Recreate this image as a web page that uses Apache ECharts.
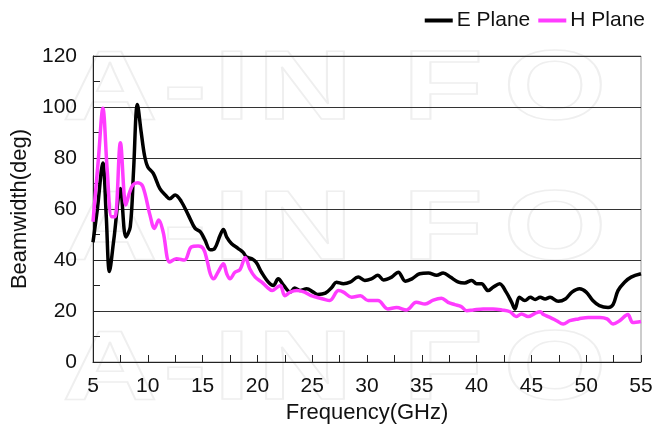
<!DOCTYPE html>
<html>
<head>
<meta charset="utf-8">
<script src="https://cdn.jsdelivr.net/npm/echarts@6/dist/echarts.min.js"></script>
<style>html,body{margin:0;padding:0;background:#fff;}#c{width:656px;height:441px;}</style>
</head>
<body>
<div id="c"></div>
<script>
const seriesNames = ['E Plane', 'H Plane'];
const xTicks = [5, 10, 15, 20, 25, 30, 35, 40, 45, 50, 55];
const yTicks = [0, 20, 40, 60, 80, 100, 120];

const eFreq = [5.0,5.4,5.9,6.2,6.5,6.9,7.5,8.0,8.4,8.7,9.05,9.4,9.7,10.0,10.5,11.1,11.7,12.0,12.5,13.05,13.7,14.3,14.8,15.2,15.7,16.1,16.6,16.9,17.2,17.65,18.25,18.7,19.0,19.5,19.9,20.4,21.0,21.45,21.9,22.4,23.0,23.4,23.9,24.5,25.1,25.5,26.2,26.8,27.2,27.85,28.45,29.2,29.8,30.4,31.0,31.5,32.25,32.85,33.5,34.1,34.8,35.6,36.35,36.95,37.6,38.35,38.9,39.55,40.0,40.45,41.05,41.5,42.1,42.7,43.2,43.5,43.9,44.4,44.9,45.35,45.8,46.25,46.7,47.45,48.1,48.7,49.4,50.0,50.6,51.2,52.0,52.45,52.9,53.5,54.1,55.0];
const eWidth = [47,60,78,58,35.5,48,68,49,53,75,101,90,81,76.5,74,68,65,64,65.5,63,57.6,52.5,51,48,44,44.5,49.7,52,49,46.4,44.5,43,41.2,40.5,39,35,31.3,30,32.6,30,27.4,29,28,28.7,27.4,26.5,27,29.3,31.3,30.7,31.3,33.3,32,32.6,34,32.2,33.3,35.2,31.7,32.6,34.6,34.9,34,34.9,33.3,31.3,31,32,30.7,30.7,28,29.3,30.7,27.4,23.4,20.8,25.4,24.1,25.4,24.5,25.4,24.7,25.4,23.8,24.7,27.4,28.7,27.4,24.1,22.1,21.4,22.5,28,31.3,33.3,34.6];

const hFreq = [5.0,5.5,5.9,6.3,6.7,7.0,7.5,8.0,8.3,8.65,9.1,9.55,10.2,10.6,11.0,11.4,12.0,12.6,13.35,13.97,14.6,15.06,15.4,15.7,16.0,16.4,16.9,17.2,17.5,17.95,18.4,18.9,19.3,19.8,20.4,20.9,21.35,21.8,22.1,22.5,23.0,23.6,24.3,24.9,25.4,26.0,26.6,27.4,27.85,28.6,29.4,30.1,31.0,31.9,32.7,33.6,34.5,35.3,36.05,36.8,37.4,38.0,38.6,39.1,39.7,40.6,41.5,42.3,43.05,43.6,44.1,44.7,45.3,45.8,46.1,46.7,47.3,47.9,48.5,49.3,50.2,51.25,51.9,52.45,53.05,53.8,54.25,55.0];
const hWidth = [55,80,99.5,75,57,57,86,61.6,66,69.5,70.3,68.8,57.6,52.4,55.7,51,39.2,40.5,40,45.1,45.5,44.5,40,34.6,32.6,35.2,38.5,34.6,32.6,35.2,36.2,41,36.6,33.3,31.3,29.3,28,29.3,30,26,27.4,28,27.4,26,25.4,24.7,24.1,28,27.4,25.4,26,24.1,24.1,20.8,21.4,20.4,23.4,22.7,24.3,25,23.4,22.5,21.7,20.1,20.4,20.8,20.8,20.4,19.7,17.8,18.8,17.8,19,19.7,18.6,17.5,16.2,14.9,16.2,16.9,17.5,17.5,16.9,14.9,16.2,18.6,15.5,15.9];

const pair = (xs, ys) => xs.map((x, i) => [x, ys[i]]);

const font = '"Liberation Sans", Arial, sans-serif';
const wmLetters = [['A',110],['-',185],['I',232],['N',305],['F',443],['O',555]];
const wmRows = [43, 183, 323];
const graphics = [];
wmRows.forEach(ry => {
  wmLetters.forEach(([ch, cx]) => {
    graphics.push({
      type: 'text', x: cx, y: ry, scaleX: 1.35, z: -10, silent: true,
      style: { text: ch, textAlign: 'center', textVerticalAlign: 'top',
        font: 'bold 98px ' + font, fill: 'rgba(0,0,0,0)', stroke: '#efefef', lineWidth: 1.5 }
    });
  });
});

const chart = echarts.init(document.getElementById('c'), null, { renderer: 'canvas' });
chart.setOption({
  animation: false,
  backgroundColor: '#fff',
  graphic: graphics,
  legend: {
    right: 6, top: 5,
    itemWidth: 28, itemHeight: 4, itemGap: 8,
    icon: 'rect',
    textStyle: { fontFamily: font, fontSize: 21, color: '#111', padding: [0, 0, 0, -1] },
    data: seriesNames
  },
  grid: { left: 93, right: 15, top: 56, bottom: 79, show: true, borderColor: '#999', borderWidth: 1, backgroundColor: 'transparent' },
  xAxis: {
    type: 'value', min: xTicks[0], max: xTicks[xTicks.length - 1], interval: 5,
    name: 'Frequency(GHz)', nameLocation: 'middle', nameGap: 37,
    nameTextStyle: { fontFamily: font, fontSize: 22, color: '#111' },
    axisLine: { lineStyle: { color: '#222', width: 1 } },
    axisTick: { inside: true, length: 7, lineStyle: { color: '#222' } },
    minorTick: { show: true, splitNumber: 2, length: 7, lineStyle: { color: '#222' } },
    axisLabel: { fontFamily: font, fontSize: 21, color: '#111', margin: 14 },
    splitLine: { show: false }
  },
  yAxis: {
    type: 'value', min: yTicks[0], max: yTicks[yTicks.length - 1], interval: 20,
    name: 'Beamwidth(deg)', nameLocation: 'middle', nameGap: 55, nameRotate: 90,
    nameTextStyle: { fontFamily: font, fontSize: 22, color: '#111' },
    axisLine: { show: true, lineStyle: { color: '#222', width: 1 } },
    axisTick: { show: true, inside: true, length: 7, lineStyle: { color: '#222' } },
    minorTick: { show: true, splitNumber: 2, length: 7, lineStyle: { color: '#222' } },
    axisLabel: { fontFamily: font, fontSize: 21, color: '#111', margin: 16 },
    splitLine: { show: true, lineStyle: { color: '#333', width: 1 } }
  },
  series: [
    { name: seriesNames[0], type: 'line', data: pair(eFreq, eWidth), showSymbol: false, smooth: 0.35,
      color: '#000', lineStyle: { color: '#000', width: 3.5 }, z: 3 },
    { name: seriesNames[1], type: 'line', data: pair(hFreq, hWidth), showSymbol: false, smooth: 0.35,
      color: '#ff3cff', lineStyle: { color: '#ff3cff', width: 3.5 }, z: 4 }
  ]
});
</script>
</body>
</html>
